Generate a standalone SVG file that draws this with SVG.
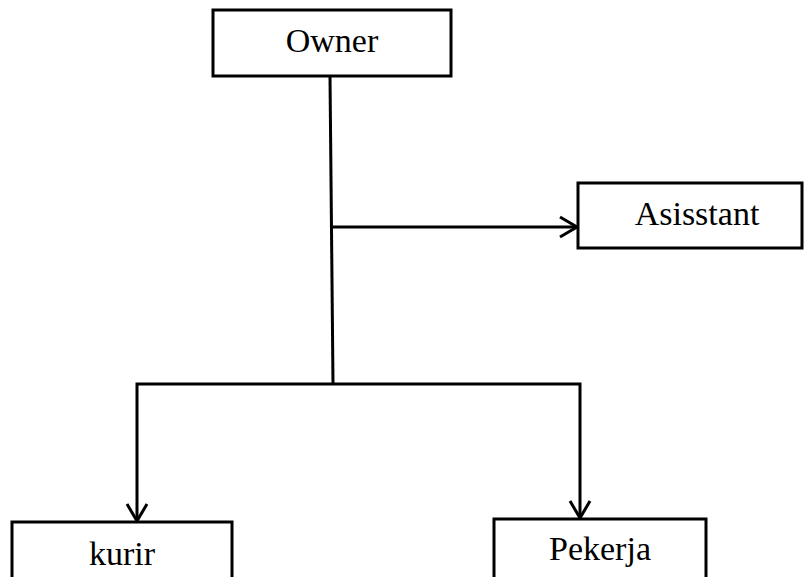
<svg xmlns="http://www.w3.org/2000/svg" width="804" height="577" viewBox="0 0 804 577">
<style>
.box{fill:#fff;stroke:#000;stroke-width:3}
.lbl{font-family:"Liberation Serif","Times New Roman",serif;font-size:34px;fill:#000;text-anchor:middle}
.ln{fill:none;stroke:#000;stroke-width:3}
</style>
<rect width="804" height="577" fill="#fff"/>
<g id="connectors">
<line class="ln" x1="330" y1="76" x2="333" y2="383"/>
<line class="ln" x1="333" y1="227" x2="577" y2="227"/>
<polyline class="ln" points="560,217 577,227 560,237"/>
<polyline class="ln" points="137,521 137,384 580,384 580,518"/>
<polyline class="ln" points="127,504 137,521 147,504"/>
<polyline class="ln" points="570,501 580,518 590,501"/>
</g>
<g id="owner">
<rect class="box" x="213" y="10" width="238" height="66"/>
<text class="lbl" x="332" y="52">Owner</text>
</g>
<g id="asisstant">
<rect class="box" x="578" y="183" width="224" height="65"/>
<text class="lbl" x="697" y="225">Asisstant</text>
</g>
<g id="kurir">
<rect class="box" x="12" y="522" width="220" height="70"/>
<text class="lbl" x="122" y="565">kurir</text>
</g>
<g id="pekerja">
<rect class="box" x="494" y="519" width="212" height="70"/>
<text class="lbl" x="600" y="560">Pekerja</text>
</g>
</svg>
